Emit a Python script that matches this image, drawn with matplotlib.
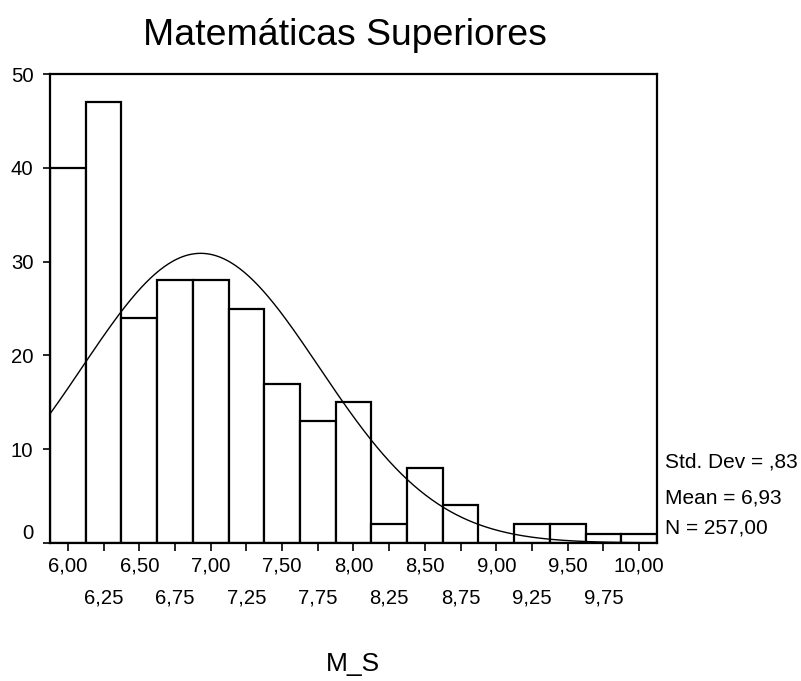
import matplotlib

matplotlib.use("Agg")
import matplotlib.pyplot as plt
import numpy as np

plt.rcParams["font.family"] = ["Liberation Sans", "DejaVu Sans"]

# histogram of M_S, bins of 0.25
bin_centers = [6.00, 6.25, 6.50, 6.75, 7.00, 7.25, 7.50, 7.75, 8.00,
               8.25, 8.50, 8.75, 9.00, 9.25, 9.50, 9.75, 10.00]
counts = [40, 47, 24, 28, 28, 25, 17, 13, 15, 2, 8, 4, 0, 2, 2, 1, 1]
bin_width = 0.25

# summary stats printed beside the plot
mean = 6.93
std_dev = 0.83
n_cases = 257

title = "Matemáticas Superiores"
xlabel = "M_S"
stats_lines = ["Std. Dev = ,83", "Mean = 6,93", "N = 257,00"]
y_ticks = [0, 10, 20, 30, 40, 50]


def comma(v):
    return f"{v:.2f}".replace(".", ",")


W, H = 801, 681
fig = plt.figure(figsize=(W / 100, H / 100), dpi=100)
ax = fig.add_axes([50 / W, 138 / H, 607 / W, 469 / H])

ax.bar(bin_centers, counts, width=bin_width, facecolor="white",
       edgecolor="black", linewidth=1.6)

# fitted normal curve scaled to counts
xs = np.linspace(bin_centers[0] - bin_width / 2, bin_centers[-1] + bin_width / 2, 400)
curve = n_cases * bin_width / (std_dev * np.sqrt(2 * np.pi)) * np.exp(-0.5 * ((xs - mean) / std_dev) ** 2)
ax.plot(xs, curve, color="black", linewidth=1.0)

ax.set_xlim(bin_centers[0] - bin_width / 2, bin_centers[-1] + bin_width / 2)
ax.set_ylim(0, 50)

major = bin_centers[0::2]
minor = bin_centers[1::2]
ax.set_xticks(major, labels=[comma(v) for v in major])
ax.set_xticks(minor, labels=[comma(v) for v in minor], minor=True)
ax.tick_params(axis="x", which="major", length=6, width=1.2, pad=4, labelsize=14.6)
ax.tick_params(axis="x", which="minor", length=6, width=1.2, pad=27, labelsize=14.6)
ax.set_yticks(y_ticks, labels=[str(v) for v in y_ticks])
ax.tick_params(axis="y", length=5, width=1.2, pad=7, labelsize=14.6)
ax.get_yticklabels()[0].set_verticalalignment("bottom")

for s in ax.spines.values():
    s.set_linewidth(1.6)

fig.text(345 / W, 1 - 45 / H, title, ha="center", va="baseline", fontsize=26.9)
fig.text(353 / W, 1 - 671 / H, xlabel, ha="center", va="baseline", fontsize=19)

for line, base in zip(stats_lines, [467, 504, 534]):
    fig.text(665 / W, 1 - base / H, line, ha="left", va="baseline", fontsize=15)

fig.savefig("out.png", dpi=100)
